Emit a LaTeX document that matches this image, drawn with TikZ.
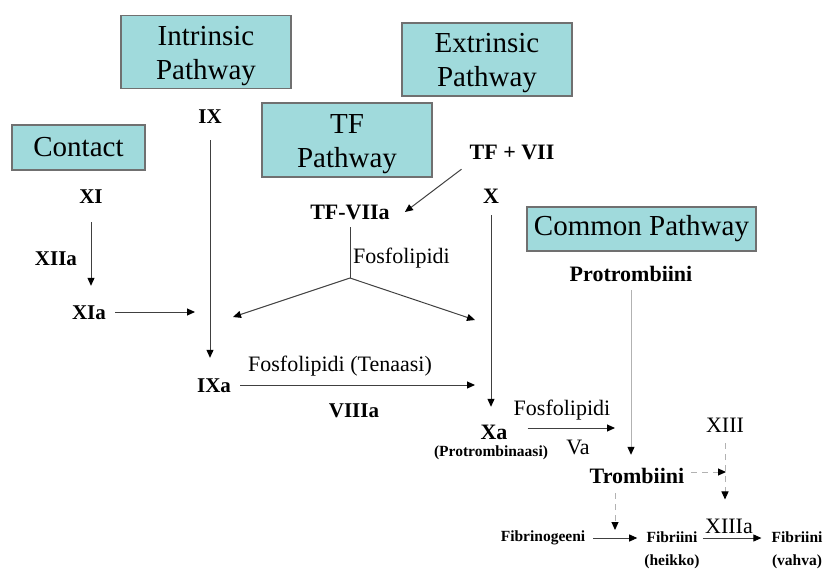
\documentclass[tikz,border=0pt]{standalone}
\usepackage{fontspec}
\setmainfont{Liberation Serif}
\usetikzlibrary{arrows.meta}
\definecolor{pathfill}{RGB}{160,218,220}
\definecolor{pathedge}{RGB}{112,112,112}

\begin{document}
\begin{tikzpicture}[x=1pt,y=-1pt,
            box/.style={shape=rectangle, draw=pathedge, fill=pathfill, line width=1.3pt, align=center, inner sep=0pt, font=\fontsize{29}{34}\selectfont},
            boxtext/.style={align=center, inner sep=0pt, yshift=-4pt, font=\fontsize{29}{34}\selectfont},
            fac/.style={inner sep=0pt, text height=14pt, text depth=0pt, font=\fontsize{21}{24}\selectfont\bfseries},
            bigfac/.style={fac, font=\fontsize{22}{24}\selectfont\bfseries},
            lab/.style={inner sep=0pt, font=\fontsize{22}{26}\selectfont},
            tiny/.style={inner sep=0pt, align=center, font=\fontsize{15.5}{23}\selectfont\bfseries},
            arr/.style={draw=black!75, line width=1pt, -{Triangle[length=8pt,width=7pt,color=black]}},
            faint/.style={draw=black!30, line width=1pt, -{Triangle[length=8pt,width=7pt,color=black]}},
            dsh/.style={faint, dash pattern=on 6pt off 5pt}]
        \useasboundingbox (0,0) rectangle (824,568);

        % pathway boxes
        \node[box, minimum width=170, minimum height=73, label={[boxtext]center:Intrinsic\\Pathway}] (intr) at (206,52) {};
        \node[box, minimum width=170, minimum height=73, label={[boxtext]center:Extrinsic\\Pathway}] (extr) at (487,59.5) {};
        \node[box, minimum width=170, minimum height=74, label={[boxtext]center:TF\\Pathway}] (tfp) at (347,140) {};
        \node[box, minimum width=133, minimum height=45] (cont) at (78.5,147.5) {Contact};
        \node[box, minimum width=229, minimum height=44] (comm) at (641.5,229) {Common Pathway};

        % factors
        \node[fac] (ix) at (210,116) {IX};
        \node[fac] (xi) at (91,196) {XI};
        \node[fac] (xiia) at (56,258) {XIIa};
        \node[fac] (xia) at (89,312) {XIa};
        \node[fac] (ixa) at (214,385) {IXa};
        \node[lab] (tenase) at (340,366) {Fosfolipidi (Tenaasi)};
        \node[fac] (viiia) at (354,410) {VIIIa};
        \node[bigfac] (tfvii) at (512,152) {TF + VII};
        \node[bigfac] (tfviia) at (350,212) {TF-VIIa};
        \node[lab, anchor=west] (fosfo1) at (353,258) {Fosfolipidi};
        \node[bigfac] (fx) at (491,196) {X};
        \node[bigfac] (xa) at (494,432) {Xa};
        \node[tiny] (prase) at (491,453) {(Protrombinaasi)};
        \node[lab] (fosfo2) at (562,410) {Fosfolipidi};
        \node[lab] (va) at (578,447) {Va};
        \node[bigfac] (protr) at (631,274) {Protrombiini};
        \node[bigfac] (trom) at (637,476) {Trombiini};
        \node[lab] (xiii) at (725,425) {XIII};
        \node[lab] (xiiia) at (729,526) {XIIIa};
        \node[tiny] (fibg) at (543,538) {Fibrinogeeni};
        \node[tiny] (fibh) at (672,550) {Fibriini\\(heikko)};
        \node[tiny] (fibv) at (797,550) {Fibriini\\(vahva)};

        \coordinate (ixin1) at (195,312);
        \coordinate (ixin2) at (233,317);
        \coordinate (br) at (350,278);
        \coordinate (xin) at (475,320);
        \coordinate (xaout) at (615,428);
        \coordinate (xiiiin) at (726,472);
        \coordinate (fibin) at (615,530);

        % intrinsic side
        \draw[arr, shorten <=19pt, shorten >=19pt] (xi.south) -- (xi.south |- xia.north);
        \draw[arr, shorten <=9pt] (xia.east) -- (ixin1);
        \draw[arr, shorten <=17pt, shorten >=20pt] (ix.south) -- (ix.south |- ixa.north);
        \draw[arr, shorten <=9pt, shorten >=16pt] (ixa.east) -- (ixa.east -| fx.center);

        % extrinsic side
        \draw[arr] ([shift={(-8,10)}]tfvii.south west) -- ([xshift=15pt]tfviia.east);
        \draw[draw=black!75, line width=1pt, shorten <=8pt] (tfviia.south) -- (br);
        \draw[arr] (br) -- (ixin2);
        \draw[arr] (br) -- (xin);
        \draw[arr, shorten <=12pt, shorten >=18pt] (fx.south) -- (fx.south |- xa.north);

        % common pathway
        \draw[arr, shorten <=20pt] ([yshift=4pt]xa.east) -- (xaout);
        \draw[faint, shorten <=9pt, shorten >=14pt] (protr.south) -- (protr.south |- trom.north);
        \draw[dsh, shorten <=7pt] ([yshift=4pt]trom.east) -- (xiiiin);
        \draw[dsh, shorten <=11pt, shorten >=19pt] (xiii.south) -- (xiii.south |- xiiia.north);
        \draw[dsh, shorten <=10pt] (trom.south -| fibin) -- (fibin);
        \draw[arr, line width=0.8pt, shorten <=8pt, shorten >=7pt] (fibg.east) -- (fibg.east -| fibh.west);
        \draw[arr, line width=0.8pt, shorten <=3pt, shorten >=10pt] (fibh.east |- fibg.east) -- (fibv.west |- fibg.east);
    \end{tikzpicture}
\end{document}
